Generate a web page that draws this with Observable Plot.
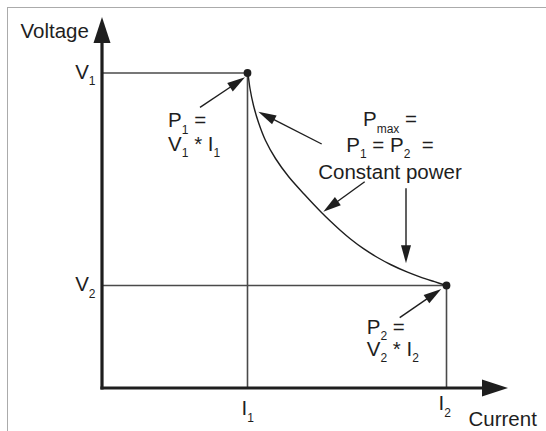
<!DOCTYPE html>
<html>
<head>
<meta charset="utf-8">
<script src="https://cdn.jsdelivr.net/npm/d3@7"></script>
<script src="https://cdn.jsdelivr.net/npm/@observablehq/plot@0.6"></script>
<style>
  body { margin: 0; background: #fff; }
  #wrap { position: relative; width: 546px; height: 431px; overflow: hidden; }
  #frame { position: absolute; left: 7px; top: 7px; right: -4px; bottom: -4px;
           border-left: 1.6px solid #ababab; border-top: 1.6px solid #ababab; pointer-events: none; }
</style>
</head>
<body>
<div id="wrap"><div id="frame"></div></div>
<script>
// ---- data (arbitrary units) ----
const operatingPoints = ["1", "2"];
const currents = [145, 344];        // I1, I2
const voltages = [315.5, 103];      // V1, V2

// constant-power curve
const curveCurrent = [145.5, 147.5, 151, 156, 163, 173, 186, 202, 219, 228, 238, 248, 261, 275, 288, 305, 318, 332, 344];
const curveVoltage = [315.5, 300, 283, 266, 248, 230, 212, 194, 176, 167.2, 158, 149.5, 139.8, 131, 124, 116.3, 111.4, 106.8, 103];

const axisExtent = {current: 406, voltage: 371};
const axisTitles = {x: "Current", y: "Voltage"};

// annotation texts ( _{...} = subscript )
const p1Lines = ["P_{1} =", "V_{1} * I_{1}"];
const p2Lines = ["P_{2} =", "V_{2} * I_{2}"];
const pmaxLines = ["P_{max} =", "P_{1} = P_{2}\u00a0 =", "Constant power"];

// pointer arrows (tail -> tip)
const pointerArrows = [
  {x1: 219.7, y1: 244,   x2: 156.3, y2: 276.3},
  {x1: 262.7, y1: 206.3, x2: 221.3, y2: 176.3},
  {x1: 304,   y1: 199.7, x2: 304,   y2: 124.7},
  {x1: 98,    y1: 280.7, x2: 143,   y2: 310.7},
  {x1: 297.7, y1: 70.3,  x2: 339.3, y2: 99}
];

// ---- derived tables ----
const points = operatingPoints.map((k, i) => ({k, I: currents[i], V: voltages[i]}));
const curve = curveCurrent.map((I, i) => ({I, V: curveVoltage[i]}));
const axisArrows = [
  {x1: 0, y1: 0, x2: 0, y2: axisExtent.voltage},
  {x1: 0, y1: 0, x2: axisExtent.current, y2: 0}
];

const INK = "#1e1e1e";
const SUB_SIZE = 12, SUB_SHIFT = 6.5;

function arrows(data, {headLength, headWidth, strokeWidth, color, linecap = "butt"}) {
  return Plot.link(data, {
    x1: "x1", y1: "y1", x2: "x2", y2: "y2",
    render(index, scales, values) {
      const g = d3.create("svg:g");
      const X1 = values.x1, Y1 = values.y1, X2 = values.x2, Y2 = values.y2;
      for (const i of index) {
        const dx = X2[i] - X1[i], dy = Y2[i] - Y1[i];
        const L = Math.hypot(dx, dy), ux = dx / L, uy = dy / L;
        const bx = X2[i] - ux * headLength, by = Y2[i] - uy * headLength;
        const px = -uy * headWidth / 2, py = ux * headWidth / 2;
        g.append("line")
          .attr("x1", X1[i]).attr("y1", Y1[i]).attr("x2", bx + ux).attr("y2", by + uy)
          .attr("stroke", color).attr("stroke-width", strokeWidth).attr("stroke-linecap", linecap);
        g.append("path")
          .attr("d", `M${X2[i]},${Y2[i]}L${bx + px},${by + py}L${bx - px},${by - py}Z`)
          .attr("fill", color);
      }
      return g.node();
    }
  });
}

function richText(data, options) {
  return Plot.text(data, {
    ...options,
    render(index, scales, values, dims, ctx, next) {
      const g = next(index, scales, values, dims, ctx);
      d3.select(g).selectAll("text").each(function () {
        const src = this.textContent;
        const parts = src.split(/(_\{[^}]*\})/);
        this.textContent = "";
        let shifted = false;
        for (const p of parts) {
          if (!p) continue;
          const t = document.createElementNS("http://www.w3.org/2000/svg", "tspan");
          if (p.startsWith("_{")) {
            t.textContent = p.slice(2, -1);
            t.setAttribute("font-size", SUB_SIZE);
            t.setAttribute("dy", SUB_SHIFT);
            shifted = true;
          } else {
            t.textContent = p;
            if (shifted) { t.setAttribute("dy", -SUB_SHIFT); shifted = false; }
          }
          this.appendChild(t);
        }
      });
      return g;
    }
  });
}

const textCommon = {fill: INK, fontSize: 20.5, lineAnchor: "bottom"};

const chart = Plot.plot({
  width: 546,
  height: 431,
  marginLeft: 102,
  marginRight: 38,
  marginTop: 17,
  marginBottom: 43,
  style: {fontFamily: "'Liberation Sans', Arial, sans-serif", fontSize: "20.5px", background: "transparent", overflow: "visible"},
  x: {type: "linear", domain: [0, axisExtent.current], axis: null},
  y: {type: "linear", domain: [0, axisExtent.voltage], axis: null},
  marks: [
    // guide lines
    Plot.ruleY(points, {y: "V", x1: 0, x2: "I", stroke: "#4a4a4a", strokeWidth: 1.6}),
    Plot.ruleX(points, {x: "I", y1: 0, y2: "V", stroke: "#4a4a4a", strokeWidth: 1.6}),
    // constant power curve
    Plot.line(curve, {x: "I", y: "V", curve: "catmull-rom", stroke: INK, strokeWidth: 1.4}),
    // axes with arrowheads
    arrows(axisArrows, {headLength: 26, headWidth: 17, strokeWidth: 3.2, color: INK, linecap: "square"}),
    // pointer arrows
    arrows(pointerArrows, {headLength: 18, headWidth: 10, strokeWidth: 1.4, color: INK}),
    // operating points
    Plot.dot(points, {x: "I", y: "V", r: 3.9, fill: INK, stroke: "none"}),
    // axis titles
    Plot.text([axisTitles.y], {x: -82, y: 350.7, textAnchor: "start", ...textCommon}),
    Plot.text([axisTitles.x], {x: 366, y: -37, textAnchor: "start", ...textCommon}),
    // tick labels
    richText(points, {x: 0, y: "V", text: d => `V_{${d.k}}`, textAnchor: "end", dx: -7, dy: 5.5, ...textCommon}),
    richText(points.slice(0, 1), {x: "I", y: 0, text: d => `I_{${d.k}}`, textAnchor: "start", dx: -6, dy: 26.5, ...textCommon}),
    richText(points.slice(1), {x: "I", y: 0, text: d => `I_{${d.k}}`, textAnchor: "start", dx: -8, dy: 21.5, ...textCommon}),
    // annotations
    richText(p1Lines, {x: 65.6, y: [261.3, 238], text: d => d, textAnchor: "start", ...textCommon}),
    richText(p2Lines, {x: 264.3, y: [54.7, 33], text: d => d, textAnchor: "start", ...textCommon}),
    richText(pmaxLines, {x: 287.5, y: [262.3, 237, 209.5], text: d => d, textAnchor: "middle", ...textCommon})
  ]
});

document.getElementById("wrap").insertBefore(chart, document.getElementById("frame"));
</script>
</body>
</html>
